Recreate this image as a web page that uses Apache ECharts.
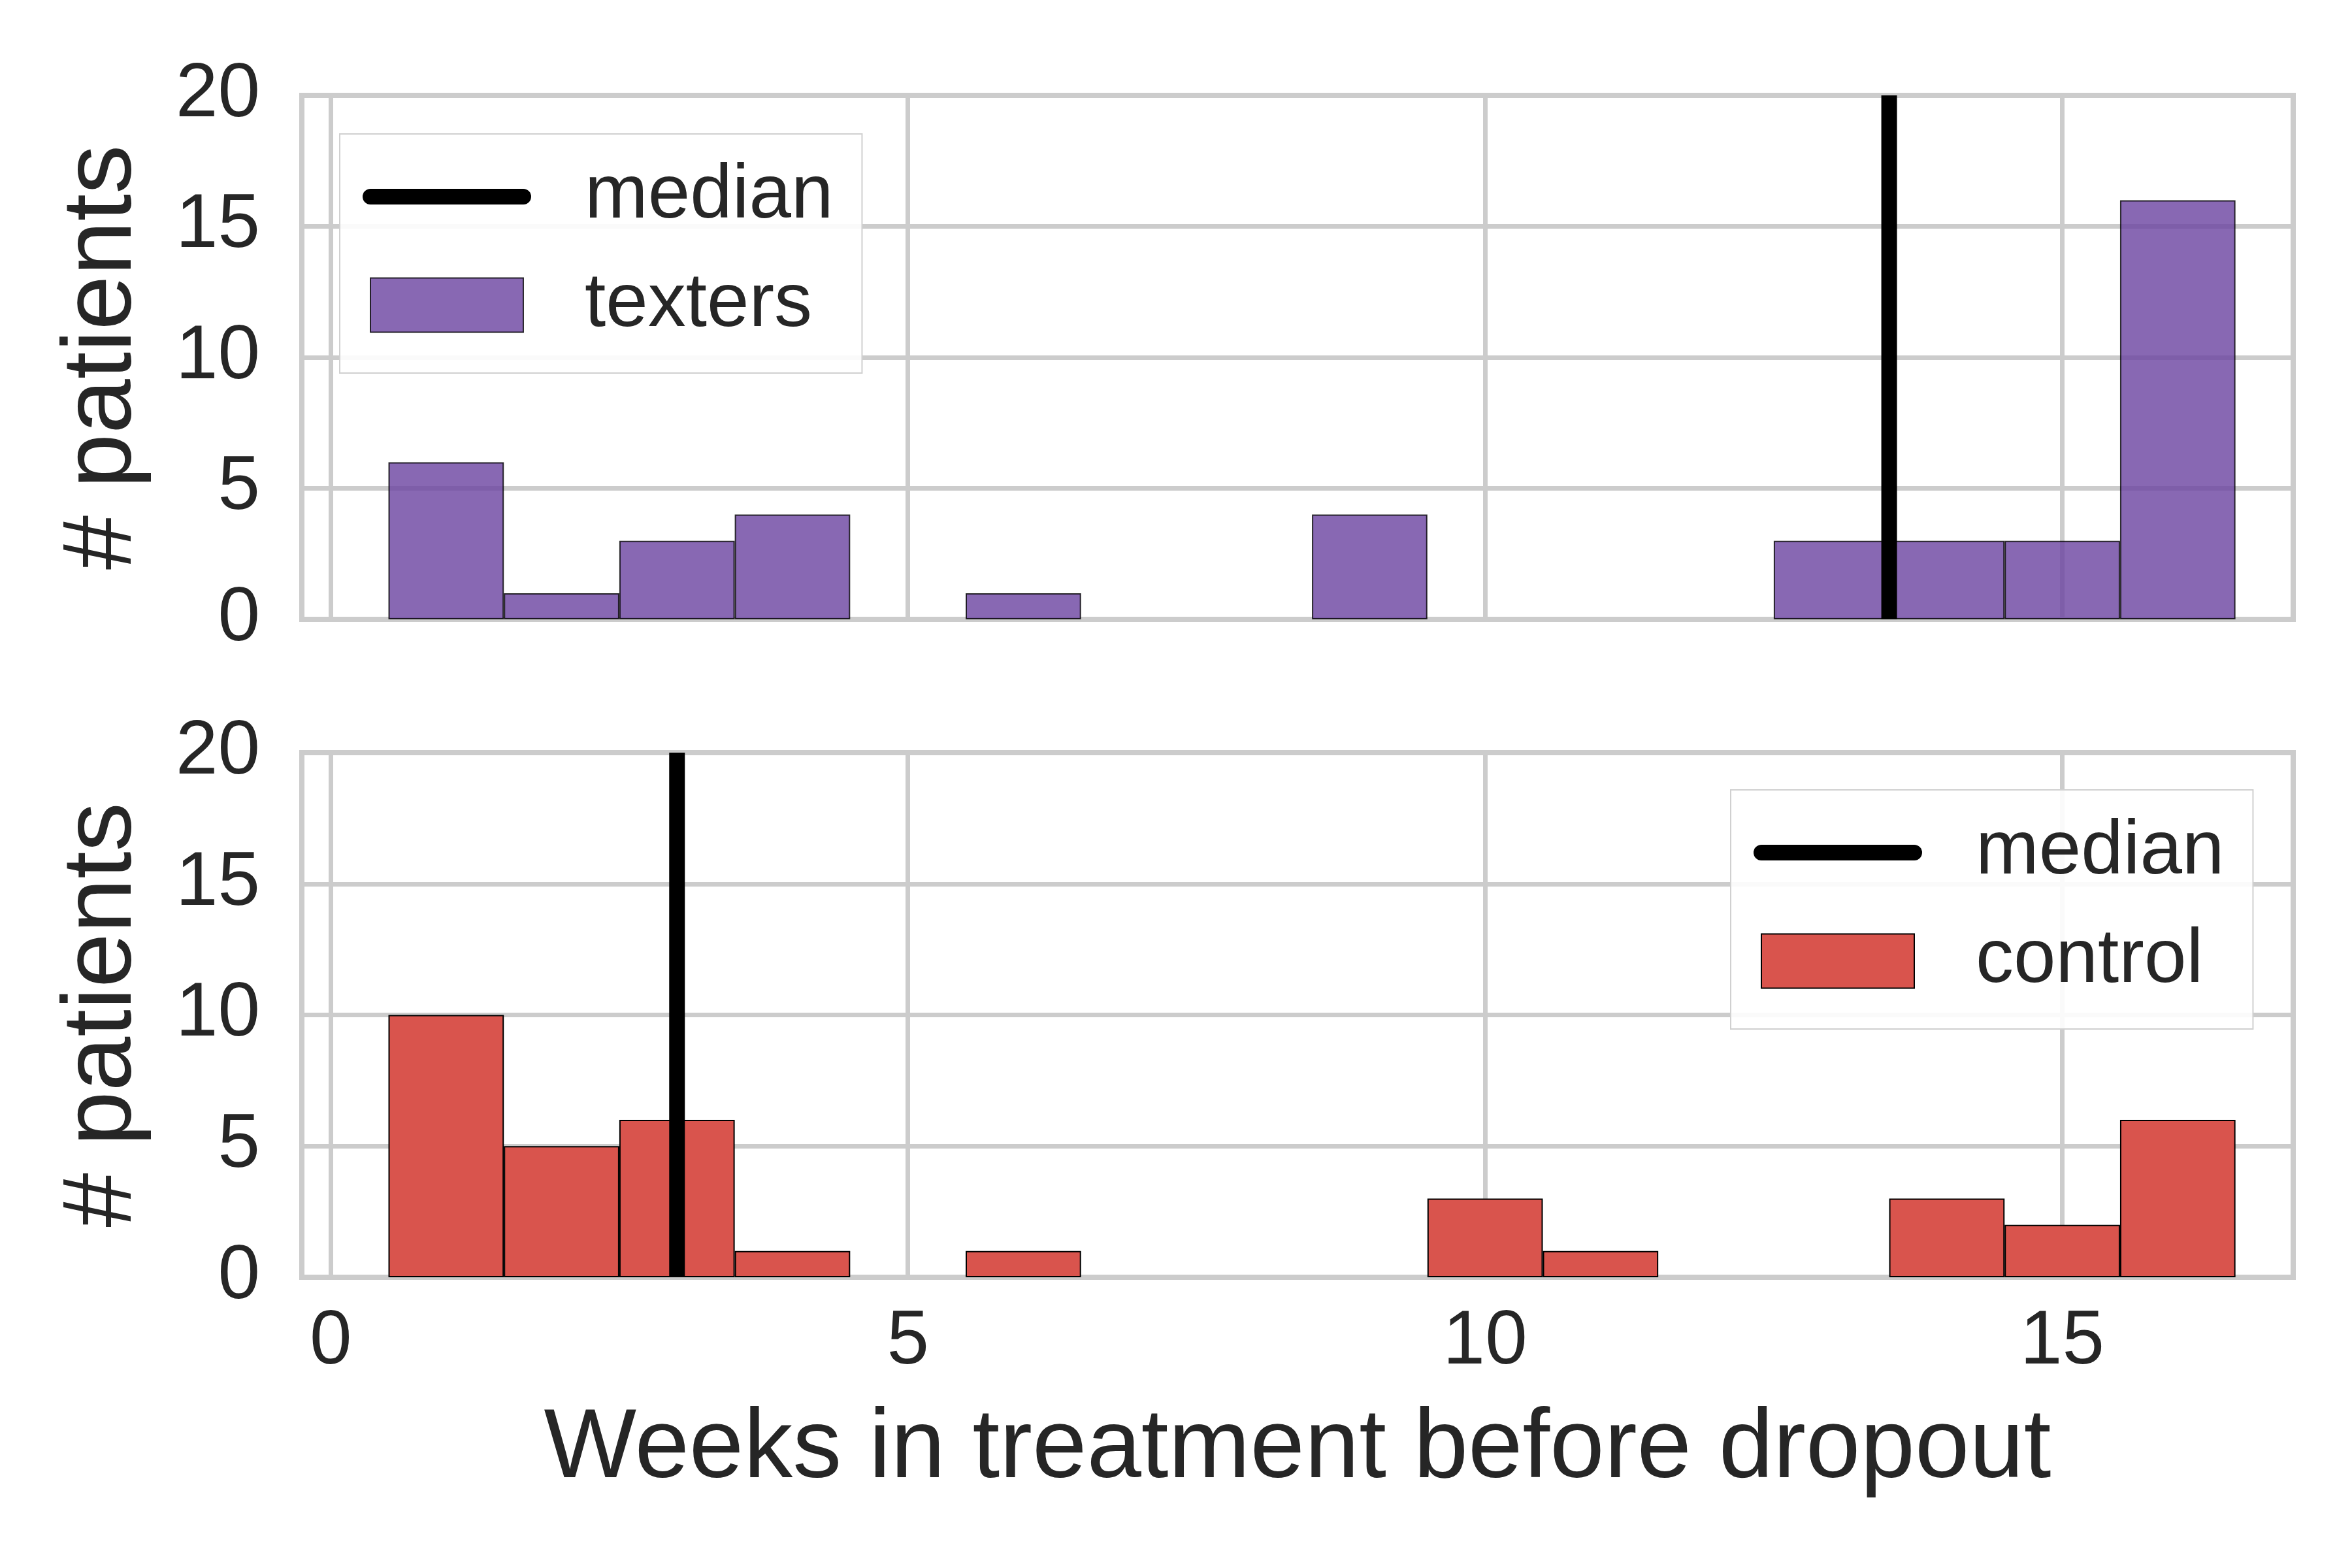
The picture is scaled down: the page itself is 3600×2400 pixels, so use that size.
<!DOCTYPE html>
<html>
<head>
<meta charset="utf-8">
<script src="https://cdn.jsdelivr.net/npm/echarts@6/dist/echarts.min.js"></script>
<style>
html,body{margin:0;padding:0;background:#fff;}
#chart{width:3600px;height:2400px;}
</style>
</head>
<body>
<div id="chart"></div>
<script>
// Histogram bin centres (weeks), bins are 1 week wide
const binCenters = [1, 2, 3, 4, 5, 6, 7, 8, 9, 10, 11, 12, 13, 14, 15, 16];
const textersCounts = [6, 1, 3, 4, 0, 1, 0, 0, 4, 0, 0, 0, 3, 3, 3, 16];
const controlCounts = [10, 5, 6, 1, 0, 1, 0, 0, 0, 3, 1, 0, 0, 3, 2, 6];
const textersMedian = 13.5;
const controlMedian = 3;
const yTicks = [0, 5, 10, 15, 20];
const xTicks = [0, 5, 10, 15];

const FONT = "'Liberation Sans', Arial, Helvetica, sans-serif";
const TXT = '#262626';
const GRIDC = '#cccccc';

function barData(counts) {
  return binCenters.map((c, i) => [c, counts[i] === 0 ? null : counts[i]]);
}
function medianData(m) {
  return [[m, yTicks[0]], [m, yTicks[yTicks.length - 1]]];
}

function xAxisCfg(gridIndex, showLabels) {
  return {
    type: 'value', gridIndex: gridIndex,
    min: -0.25, max: 17,
    splitNumber: 4, minInterval: 5, maxInterval: 5,
    axisLine: {show: false}, axisTick: {show: false},
    splitLine: {show: true, lineStyle: {color: GRIDC, width: 7}},
    axisLabel: {
      show: showLabels, showMinLabel: false, showMaxLabel: false,
      fontSize: 116, fontFamily: FONT, color: TXT, margin: 42,
      formatter: v => (xTicks.indexOf(Math.round(v)) >= 0 && Math.abs(v - Math.round(v)) < 1e-9) ? String(Math.round(v)) : ''
    },
    name: showLabels ? 'Weeks in treatment before dropout' : '',
    nameLocation: 'middle', nameGap: 190,
    nameTextStyle: {fontSize: 150, fontFamily: FONT, color: TXT}
  };
}
function yAxisCfg(gridIndex) {
  return {
    type: 'value', gridIndex: gridIndex,
    min: yTicks[0], max: yTicks[yTicks.length - 1], interval: 5,
    axisLine: {show: false}, axisTick: {show: false},
    splitLine: {show: true, lineStyle: {color: GRIDC, width: 7}},
    axisLabel: {fontSize: 116, fontFamily: FONT, color: TXT, margin: 64, padding: [0, 0, 20, 0]},
    name: '# patients', nameLocation: 'middle', nameRotate: 90, nameGap: 228,
    nameTextStyle: {fontSize: 150, fontFamily: FONT, color: TXT}
  };
}
function legendCfg(pos, names) {
  return Object.assign({
    orient: 'vertical',
    data: names,
    itemWidth: 234, itemHeight: 83, itemGap: 50,
    padding: [38, 44, 46, 35],
    backgroundColor: 'rgba(255,255,255,0.9)',
    borderColor: '#d0d0d0', borderWidth: 2, borderRadius: 0,
    selectedMode: false,
    lineStyle: {width: 24, cap: 'round', color: '#000'},
    textStyle: {fontSize: 116, fontFamily: FONT, color: TXT, padding: [0, 0, 0, 89]}
  }, pos);
}

const chart = echarts.init(document.getElementById('chart'), null, {renderer: 'canvas', width: 3600, height: 2400});
chart.setOption({
  backgroundColor: '#ffffff',
  animation: false,
  grid: [
    {left: 462, right: 90, top: 146, height: 802, show: true, borderColor: GRIDC, borderWidth: 8, backgroundColor: 'transparent'},
    {left: 462, right: 90, top: 1152, height: 803, show: true, borderColor: GRIDC, borderWidth: 8, backgroundColor: 'transparent'}
  ],
  xAxis: [xAxisCfg(0, false), xAxisCfg(1, true)],
  yAxis: [yAxisCfg(0), yAxisCfg(1)],
  legend: [
    legendCfg({left: 520, top: 205}, [
      {name: 'median', itemStyle: {opacity: 0}},
      {name: 'texters', icon: 'rect'}
    ]),
    legendCfg({left: 2649, top: 1209}, [
      {name: 'median', itemStyle: {opacity: 0}},
      {name: 'control', icon: 'rect'}
    ])
  ],
  series: [
    {
      name: 'texters', type: 'bar', xAxisIndex: 0, yAxisIndex: 0,
      data: barData(textersCounts), barWidth: '100%', barGap: '0%',
      itemStyle: {color: '#6a42a0', opacity: 0.8, borderColor: '#000000', borderWidth: 2}
    },
    {
      name: 'median', type: 'line', xAxisIndex: 0, yAxisIndex: 0,
      data: medianData(textersMedian), symbol: 'none', z: 5,
      lineStyle: {color: '#000000', width: 24, cap: 'butt'},
      itemStyle: {color: '#000000'}
    },
    {
      name: 'control', type: 'bar', xAxisIndex: 1, yAxisIndex: 1,
      data: barData(controlCounts), barWidth: '100%', barGap: '0%',
      itemStyle: {color: '#d9544d', borderColor: '#000000', borderWidth: 2}
    },
    {
      name: 'median', type: 'line', xAxisIndex: 1, yAxisIndex: 1,
      data: medianData(controlMedian), symbol: 'none', z: 5,
      lineStyle: {color: '#000000', width: 24, cap: 'butt'},
      itemStyle: {color: '#000000'}
    }
  ]
});
</script>
</body>
</html>
